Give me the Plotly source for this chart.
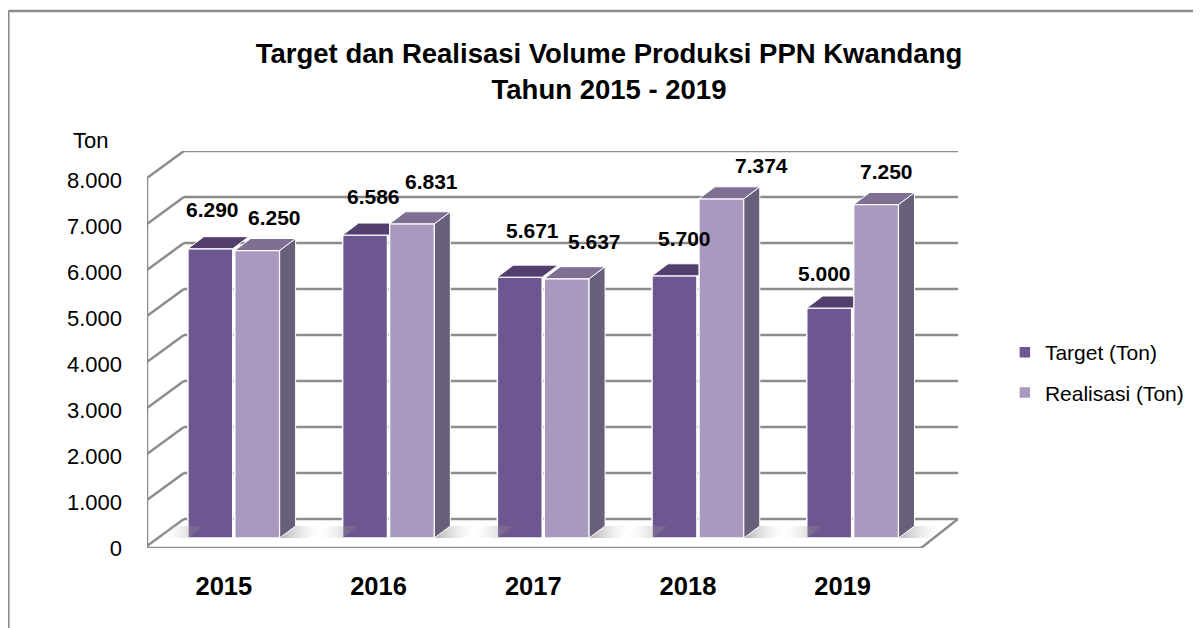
import plotly.graph_objects as go

# ---------------- data ----------------
years = ["2015", "2016", "2017", "2018", "2019"]
target = [6290, 6586, 5671, 5700, 5000]
realisasi = [6250, 6831, 5637, 7374, 7250]
y_ticks = [0, 1000, 2000, 3000, 4000, 5000, 6000, 7000, 8000]
series_names = ["Target (Ton)", "Realisasi (Ton)"]

# ---------------- style / geometry ----------------
OFF = 8                                      # page body margin
W, H = 1201 - OFF, 628 - OFF
def sx(p): return p - OFF                    # screen px -> figure px
PL, PR, PT, PB = sx(147), sx(960), sx(151), sx(548)
PX_U = 155.1                                 # px per category unit
PX_V = 0.046                                 # px per value unit
def du(px): return px / PX_U
def dv(px): return px / PX_V

X0 = -du(234 - 147)
X1 = X0 + du(PR - PL)
Y0 = -dv(548 - 538)
Y1 = Y0 + dv(PB - PT)

BAR_W = du(45)
GAP = du(2)
TOP_DX, TOP_DY = du(16), dv(12)       # depth of bar tops
FRONT_DY = dv(-8)                     # front plane offset
BACK_DY = dv(19)                      # back wall offset
DEPTH_X = du(37)
SH_W = du(30)                         # floor shadow width

C_T_FRONT, C_T_TOP = "#6E5690", "#533F6E"
C_R_FRONT, C_R_TOP, C_R_SIDE = "#A999BF", "#7F7093", "#6A5F7A"
GRID = "#8C8C8C"
FONT = "Liberation Sans"

fmt = lambda v: f"{v:,}".replace(",", ".")
xs = list(range(len(years)))

fig = go.Figure()
fig.add_trace(go.Bar(x=xs, y=target, name=series_names[0], width=BAR_W,
                     offset=-BAR_W - GAP / 2, marker_color=C_T_FRONT,
                     marker_line=dict(color="white", width=1.5),
                     legendgroup="t", hoverinfo="skip"))
fig.add_trace(go.Bar(x=xs, y=realisasi, name=series_names[1], width=BAR_W,
                     offset=GAP / 2, marker_color=C_R_FRONT,
                     marker_line=dict(color="white", width=1.5),
                     legendgroup="r", hoverinfo="skip"))

def poly(px, py, color):
    fig.add_trace(go.Scatter(x=px + [px[0]], y=py + [py[0]], mode="lines",
                             fill="toself", fillcolor=color,
                             line=dict(color="white", width=1),
                             showlegend=False, hoverinfo="skip"))

def shadow(px, py, dark_left):
    cs = [[0, "rgba(110,110,110,0.55)"], [1, "rgba(255,255,255,0)"]]
    if not dark_left:
        cs = [[0, "rgba(255,255,255,0)"], [1, "rgba(110,110,110,0.45)"]]
    fig.add_trace(go.Scatter(x=px + [px[0]], y=py + [py[0]], mode="lines",
                             fill="toself", line=dict(width=0),
                             fillgradient=dict(type="horizontal", colorscale=cs),
                             showlegend=False, hoverinfo="skip"))

for i, (t, r) in enumerate(zip(target, realisasi)):
    ra, rb = i + GAP / 2, i + GAP / 2 + BAR_W
    ta = i - GAP / 2 - BAR_W
    shadow([rb, rb + SH_W, rb + TOP_DX + SH_W, rb + TOP_DX], [0, 0, TOP_DY, TOP_DY], True)
    shadow([ta - SH_W, ta, ta + TOP_DX, ta - SH_W + TOP_DX], [0, 0, TOP_DY, TOP_DY], False)

for i, (t, r) in enumerate(zip(target, realisasi)):
    ra, rb = i + GAP / 2, i + GAP / 2 + BAR_W
    ta, tb = i - GAP / 2 - BAR_W, i - GAP / 2
    poly([rb, rb, rb + TOP_DX, rb + TOP_DX], [0, r, r + TOP_DY, TOP_DY], C_R_SIDE)
    poly([ra, rb, rb + TOP_DX, ra + TOP_DX], [r, r, r + TOP_DY, r + TOP_DY], C_R_TOP)
    if r > t:
        poly([ta, ra, ra, ta + TOP_DX], [t, t, t + TOP_DY, t + TOP_DY], C_T_TOP)
    else:
        poly([ta, tb, tb + TOP_DX, ta + TOP_DX], [t, t, t + TOP_DY, t + TOP_DY], C_T_TOP)

# value labels (px nudges relative to bar centre / front top)
lab_dx_t = [2, 8, 13, 10, -5]
lab_dy_t = [39, 39, 47, 37, 35]
lab_dx_r = [17, 20, 28, 40, 10]
lab_dy_r = [33, 42, 37, 33, 33]
ann = []
for i, (t, r) in enumerate(zip(target, realisasi)):
    ann.append(dict(x=i - GAP / 2 - BAR_W / 2, y=t, text=fmt(t), showarrow=False,
                    xshift=lab_dx_t[i], yshift=lab_dy_t[i],
                    font=dict(family=FONT, size=21, color="black", weight="bold")))
    ann.append(dict(x=i + GAP / 2 + BAR_W / 2, y=r, text=fmt(r), showarrow=False,
                    xshift=lab_dx_r[i], yshift=lab_dy_r[i],
                    font=dict(family=FONT, size=21, color="black", weight="bold")))

def px2paper_x(p): return (sx(p) - PL) / (PR - PL)
def px2paper_y(p): return (PB - sx(p)) / (PB - PT)

ann.append(dict(x=px2paper_x(90), y=px2paper_y(140), xref="paper", yref="paper",
                xanchor="center", yanchor="middle",
                text="Ton", showarrow=False, font=dict(family=FONT, size=22, color="black")))

# grid / walls
shapes = []
gl = dict(color=GRID, width=2.5)
xf, xb = X0, X0 + DEPTH_X
for v in y_ticks:
    shapes.append(dict(type="line", xref="x", yref="y", x0=xf, y0=v + FRONT_DY,
                       x1=xb, y1=v + BACK_DY, line=gl, layer="below"))
    shapes.append(dict(type="line", xref="x", yref="y", x0=xb, y0=v + BACK_DY,
                       x1=X1, y1=v + BACK_DY, line=gl, layer="below"))
shapes.append(dict(type="line", xref="x", yref="y", x0=X0, y0=Y0, x1=X1 - DEPTH_X, y1=Y0,
                   line=gl, layer="below"))
shapes.append(dict(type="line", xref="x", yref="y", x0=X1 - DEPTH_X, y0=Y0, x1=X1,
                   y1=BACK_DY, line=gl, layer="below"))
shapes.append(dict(type="line", xref="x", yref="y", x0=X0, y0=Y0, x1=X0,
                   y1=y_ticks[-1] + FRONT_DY, line=gl, layer="below"))
# outer border
bl = dict(color="#8C8C8C", width=2.5)
shapes.append(dict(type="line", xref="paper", yref="paper",
                   x0=px2paper_x(8), y0=px2paper_y(11), x1=px2paper_x(1215), y1=px2paper_y(11), line=bl))
shapes.append(dict(type="line", xref="paper", yref="paper",
                   x0=px2paper_x(8), y0=px2paper_y(11), x1=px2paper_x(8), y1=px2paper_y(640), line=bl))

fig.update_layout(
    width=W, height=H, autosize=False,
    margin=dict(l=PL, r=W - PR, t=PT, b=H - PB, pad=0),
    paper_bgcolor="white", plot_bgcolor="rgba(0,0,0,0)",
    title=dict(text="Target dan Realisasi Volume Produksi PPN Kwandang<br>Tahun 2015 - 2019",
               x=sx(609) / W, xref="container", xanchor="center",
               y=1 - 55 / H, yref="container", yanchor="top",
               font=dict(family=FONT, size=27.5, color="black", weight="bold")),
    showlegend=True,
    legend=dict(x=px2paper_x(1007), y=px2paper_y(372.5), xanchor="left", yanchor="middle",
                traceorder="grouped", tracegroupgap=10,
                font=dict(family=FONT, size=21, color="black"),
                bgcolor="rgba(0,0,0,0)"),
    xaxis=dict(range=[X0, X1], showgrid=False, zeroline=False, showline=False,
               tickvals=[i - du(10) for i in xs], ticktext=years, ticks="",
               ticklabelstandoff=20, automargin=False,
               tickfont=dict(family=FONT, size=25.5, color="black", weight="bold"),
               fixedrange=True),
    yaxis=dict(range=[Y0, Y1], showgrid=False, zeroline=False, showline=False,
               tickvals=[v - dv(10) for v in y_ticks], ticktext=[fmt(v) for v in y_ticks],
               ticks="", ticklabelstandoff=24, automargin=False,
               tickfont=dict(family=FONT, size=22, color="black"), fixedrange=True),
    annotations=ann, shapes=shapes,
)

fig.write_html("out.html")
